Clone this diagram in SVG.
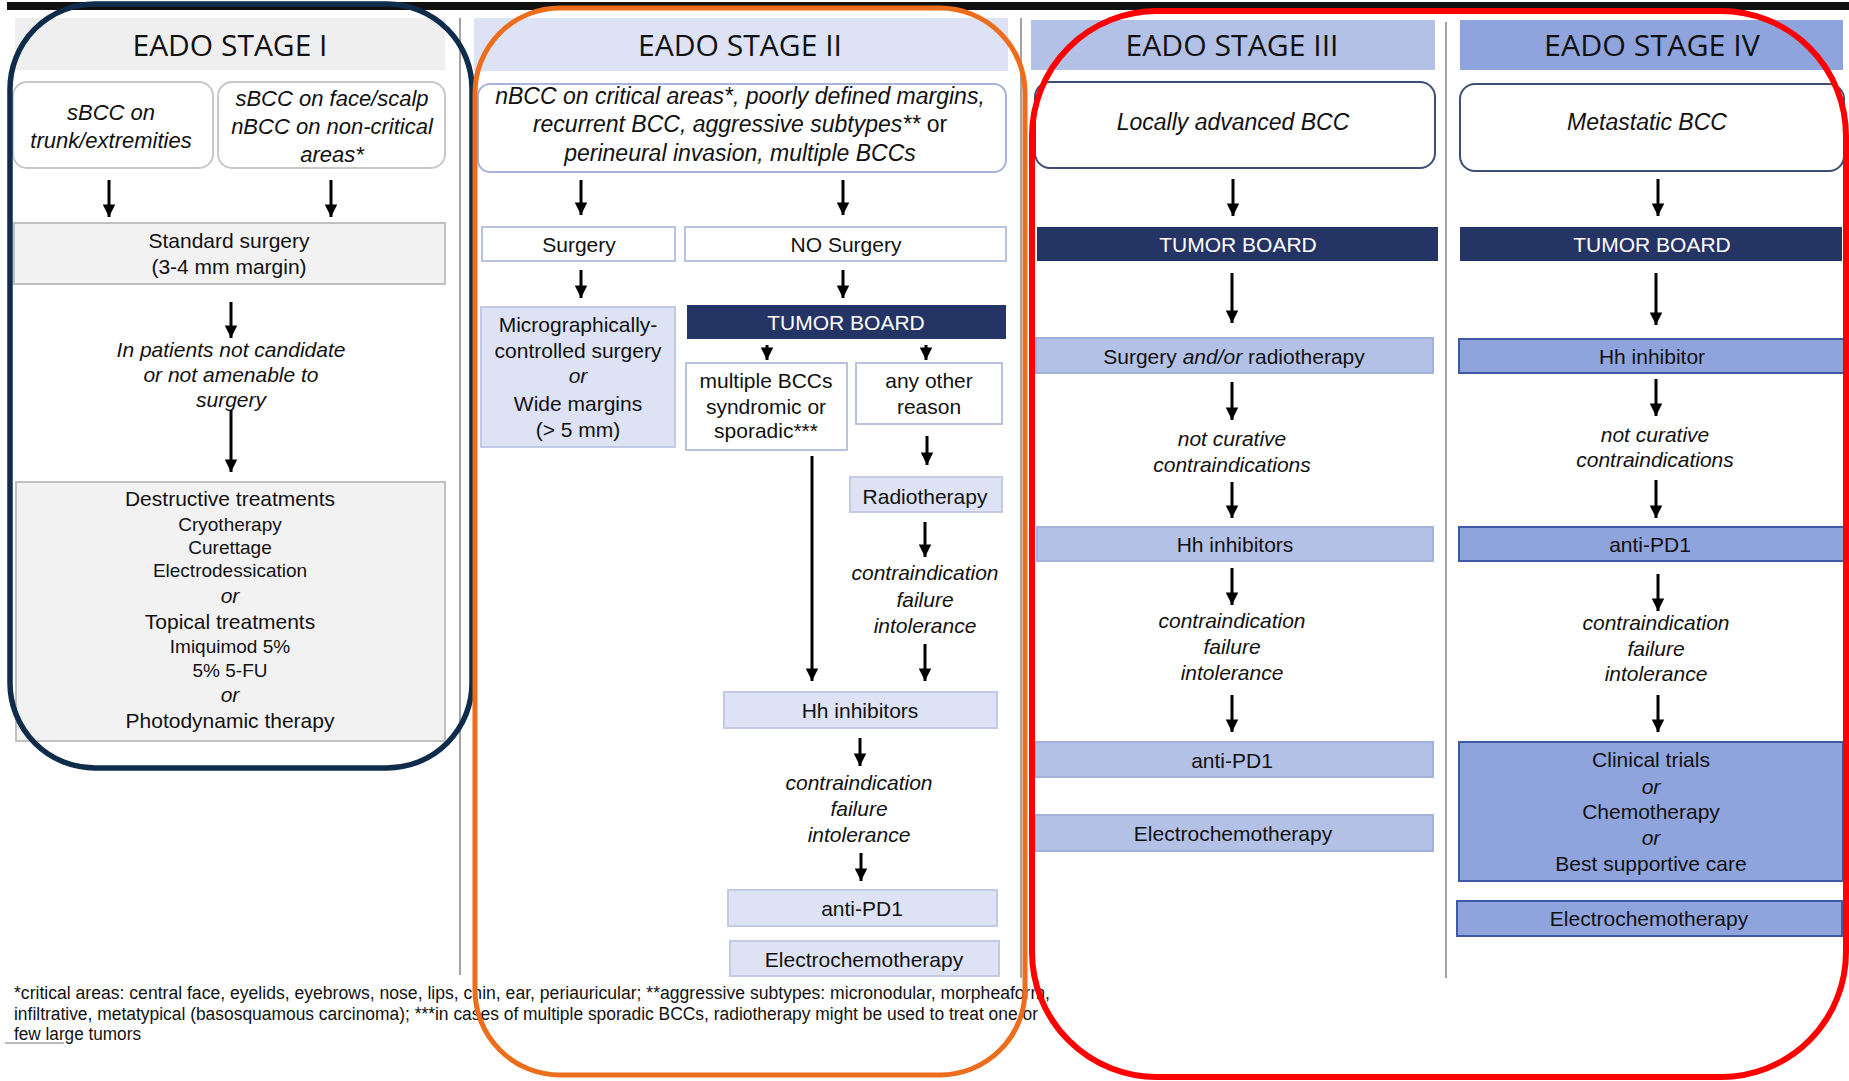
<svg xmlns="http://www.w3.org/2000/svg" width="1849" height="1081" viewBox="0 0 1849 1081">
<defs>
<marker id="ah" viewBox="0 0 10 10" refX="10" refY="5" markerWidth="4.2" markerHeight="4.2" orient="auto"><path d="M0,0 L10,5 L0,10 z" fill="#000"/></marker>
<style>
.t{font-family:"Liberation Sans",Arial,sans-serif;font-size:21px;fill:#111;text-anchor:middle}
.i{font-style:italic}
.s19{font-size:19px}
.w{fill:#fff}
.ttl{font-family:"Open Sans",Lato,sans-serif;font-size:29px;fill:#111;text-anchor:middle}
.arr{stroke:#000;stroke-width:3;fill:none;marker-end:url(#ah)}
.sep{stroke:#a3a3a3;stroke-width:2}
.g1{fill:#f2f2f2;stroke:#c0c0c0;stroke-width:2}
.r1{fill:#fff;stroke:#c8c8c8;stroke-width:2}
.h2{fill:#dde2f4}
.b2{fill:#dde2f4;stroke:#c3cae6;stroke-width:2}
.o2{fill:#fff;stroke:#b9c2df;stroke-width:2}
.tb{fill:#243464}
.h3{fill:#b4c1e6}
.b3{fill:#b4c1e6;stroke:#a2b0dc;stroke-width:2}
.h4{fill:#8fa4dc}
.b4{fill:#8fa4dc;stroke:#3f5aa5;stroke-width:2}
.rn{fill:#fff;stroke:#3d4d75;stroke-width:2}
.foot{font-family:"Liberation Sans",Arial,sans-serif;font-size:18px;fill:#111}
</style>
</defs>
<rect width="1849" height="1081" fill="#fff"/>
<rect x="7" y="2" width="1842" height="8" fill="#111"/>
<line class="sep" x1="460" y1="18" x2="460" y2="975"/>
<line class="sep" x1="1021" y1="18" x2="1021" y2="978"/>
<line class="sep" x1="1446" y1="22" x2="1446" y2="978"/>

<!-- Stage I -->
<g id="stage1-header"><rect x="15" y="18" width="430" height="52" fill="#efefef"/><text class="ttl" x="230" y="56" textLength="195" lengthAdjust="spacingAndGlyphs">EADO STAGE I</text></g>
<g id="s1-trunk"><rect class="r1" x="13" y="82" width="200" height="86" rx="14"/><text class="t i" style="font-size:22px" x="111" y="120">sBCC on</text><text class="t i" style="font-size:22px" x="111" y="148">trunk/extremities</text></g>
<g id="s1-face"><rect class="r1" x="218" y="82" width="227" height="86" rx="14"/><text class="t i" style="font-size:22px" x="332" y="106">sBCC on face/scalp</text><text class="t i" style="font-size:22px" x="332" y="134">nBCC on non-critical</text><text class="t i" style="font-size:22px" x="332" y="162">areas*</text></g>
<g id="s1-standard"><rect class="g1" x="14" y="223" width="431" height="61"/><text class="t" x="229" y="248">Standard surgery</text><text class="t" x="229" y="274">(3-4 mm margin)</text></g>
<g id="s1-notcandidate"><text class="t i" x="231" y="357">In patients not candidate</text><text class="t i" x="231" y="382">or not amenable to</text><text class="t i" x="231" y="407">surgery</text></g>
<g id="s1-destructive"><rect class="g1" x="16" y="482" width="429" height="259"/>
<text class="t" x="230" y="506">Destructive treatments</text>
<text class="t s19" x="230" y="531">Cryotherapy</text>
<text class="t s19" x="230" y="554">Curettage</text>
<text class="t s19" x="230" y="577">Electrodessication</text>
<text class="t i" x="230" y="603">or</text>
<text class="t" x="230" y="629">Topical treatments</text>
<text class="t s19" x="230" y="653">Imiquimod 5%</text>
<text class="t s19" x="230" y="677">5% 5-FU</text>
<text class="t i" x="230" y="702">or</text>
<text class="t" x="230" y="728">Photodynamic therapy</text></g>

<!-- Stage II -->
<g id="stage2-header"><rect class="h2" x="474" y="18" width="534" height="53"/><text class="ttl" x="740" y="56" textLength="204" lengthAdjust="spacingAndGlyphs">EADO STAGE II</text></g>
<g id="s2-criteria"><rect x="478" y="84" width="528" height="88" rx="12" fill="#fff" stroke="#a8b4d8" stroke-width="2"/>
<text class="t i" style="font-size:23px" x="740" y="104">nBCC on critical areas*, poorly defined margins,</text>
<text class="t i" style="font-size:23px" x="740" y="132">recurrent BCC, aggressive subtypes** <tspan font-style="normal">or</tspan></text>
<text class="t i" style="font-size:23px" x="740" y="161">perineural invasion, multiple BCCs</text></g>
<g id="s2-surgery"><rect class="o2" x="482" y="227" width="193" height="34"/><text class="t" x="579" y="252">Surgery</text></g>
<g id="s2-nosurgery"><rect class="o2" x="685" y="227" width="321" height="34"/><text class="t" x="846" y="252">NO Surgery</text></g>
<g id="s2-micro"><rect class="b2" x="481" y="307" width="194" height="140"/>
<text class="t" x="578" y="332">Micrographically-</text>
<text class="t" x="578" y="358">controlled surgery</text>
<text class="t i" x="578" y="383">or</text>
<text class="t" x="578" y="411">Wide margins</text>
<text class="t" x="578" y="437">(&gt; 5 mm)</text></g>
<g id="s2-tumorboard"><rect class="tb" x="687" y="305" width="319" height="34"/><text class="t w" x="846" y="330">TUMOR BOARD</text></g>
<g id="s2-multiple"><rect class="o2" x="686" y="363" width="161" height="87"/><text class="t" x="766" y="388">multiple BCCs</text><text class="t" x="766" y="414">syndromic or</text><text class="t" x="766" y="438">sporadic***</text></g>
<g id="s2-other"><rect class="o2" x="856" y="363" width="146" height="61"/><text class="t" x="929" y="388">any other</text><text class="t" x="929" y="414">reason</text></g>
<g id="s2-radio"><rect class="b2" x="850" y="477" width="152" height="35"/><text class="t" x="925" y="504">Radiotherapy</text></g>
<g id="s2-cfi1"><text class="t i" x="925" y="580">contraindication</text><text class="t i" x="925" y="607">failure</text><text class="t i" x="925" y="633">intolerance</text></g>
<g id="s2-hh"><rect class="b2" x="724" y="692" width="273" height="36"/><text class="t" x="860" y="718">Hh inhibitors</text></g>
<g id="s2-cfi2"><text class="t i" x="859" y="790">contraindication</text><text class="t i" x="859" y="816">failure</text><text class="t i" x="859" y="842">intolerance</text></g>
<g id="s2-pd1"><rect class="b2" x="728" y="890" width="269" height="36"/><text class="t" x="862" y="916">anti-PD1</text></g>
<g id="s2-ect"><rect class="b2" x="730" y="941" width="269" height="35"/><text class="t" x="864" y="967">Electrochemotherapy</text></g>

<!-- Stage III -->
<g id="stage3-header"><rect class="h3" x="1031" y="20" width="404" height="50"/><text class="ttl" x="1232" y="56" textLength="213" lengthAdjust="spacingAndGlyphs">EADO STAGE III</text></g>
<g id="s3-locally"><rect class="rn" x="1035" y="82" width="400" height="86" rx="15"/><text class="t i" style="font-size:23px" x="1233" y="130">Locally advanced BCC</text></g>
<g id="s3-tumorboard"><rect class="tb" x="1037" y="227" width="401" height="34"/><text class="t w" x="1238" y="252">TUMOR BOARD</text></g>
<g id="s3-surgradio"><rect class="b3" x="1036" y="338" width="397" height="35"/><text class="t" x="1234" y="364">Surgery <tspan font-style="italic">and/or</tspan> radiotherapy</text></g>
<g id="s3-notcur"><text class="t i" x="1232" y="446">not curative</text><text class="t i" x="1232" y="472">contraindications</text></g>
<g id="s3-hh"><rect class="b3" x="1037" y="527" width="396" height="34"/><text class="t" x="1235" y="552">Hh inhibitors</text></g>
<g id="s3-cfi"><text class="t i" x="1232" y="628">contraindication</text><text class="t i" x="1232" y="654">failure</text><text class="t i" x="1232" y="680">intolerance</text></g>
<g id="s3-pd1"><rect class="b3" x="1035" y="742" width="398" height="35"/><text class="t" x="1232" y="768">anti-PD1</text></g>
<g id="s3-ect"><rect class="b3" x="1035" y="815" width="398" height="36"/><text class="t" x="1233" y="841">Electrochemotherapy</text></g>

<!-- Stage IV -->
<g id="stage4-header"><rect class="h4" x="1460" y="20" width="383" height="50"/><text class="ttl" x="1652" y="56" textLength="216" lengthAdjust="spacingAndGlyphs">EADO STAGE IV</text></g>
<g id="s4-meta"><rect class="rn" x="1460" y="84" width="384" height="87" rx="15"/><text class="t i" style="font-size:23px" x="1647" y="130">Metastatic BCC</text></g>
<g id="s4-tumorboard"><rect class="tb" x="1460" y="227" width="382" height="34"/><text class="t w" x="1652" y="252">TUMOR BOARD</text></g>
<g id="s4-hh"><rect class="b4" x="1459" y="339" width="385" height="34"/><text class="t" x="1652" y="364">Hh inhibitor</text></g>
<g id="s4-notcur"><text class="t i" x="1655" y="442">not curative</text><text class="t i" x="1655" y="467">contraindications</text></g>
<g id="s4-pd1"><rect class="b4" x="1459" y="527" width="385" height="34"/><text class="t" x="1650" y="552">anti-PD1</text></g>
<g id="s4-cfi"><text class="t i" x="1656" y="630">contraindication</text><text class="t i" x="1656" y="656">failure</text><text class="t i" x="1656" y="681">intolerance</text></g>
<g id="s4-clinical"><rect class="b4" x="1459" y="742" width="384" height="139"/>
<text class="t" x="1651" y="767">Clinical trials</text>
<text class="t i" x="1651" y="794">or</text>
<text class="t" x="1651" y="819">Chemotherapy</text>
<text class="t i" x="1651" y="845">or</text>
<text class="t" x="1651" y="871">Best supportive care</text></g>
<g id="s4-ect"><rect class="b4" x="1457" y="901" width="385" height="35"/><text class="t" x="1649" y="926">Electrochemotherapy</text></g>

<!-- Connectors -->
<g id="connectors">
<line class="arr" x1="109" y1="180" x2="109" y2="217"/>
<line class="arr" x1="331" y1="180" x2="331" y2="217"/>
<line class="arr" x1="231" y1="302" x2="231" y2="338"/>
<line class="arr" x1="231" y1="410" x2="231" y2="472"/>
<line class="arr" x1="581" y1="180" x2="581" y2="215"/>
<line class="arr" x1="843" y1="180" x2="843" y2="215"/>
<line class="arr" x1="581" y1="270" x2="581" y2="298"/>
<line class="arr" x1="843" y1="270" x2="843" y2="298"/>
<line class="arr" x1="767" y1="345" x2="767" y2="360"/>
<line class="arr" x1="926" y1="345" x2="926" y2="360"/>
<line class="arr" x1="927" y1="436" x2="927" y2="465"/>
<line class="arr" x1="925" y1="522" x2="925" y2="557"/>
<line class="arr" x1="925" y1="644" x2="925" y2="681"/>
<line class="arr" x1="812" y1="456" x2="812" y2="681"/>
<line class="arr" x1="860" y1="738" x2="860" y2="766"/>
<line class="arr" x1="861" y1="853" x2="861" y2="881"/>
<line class="arr" x1="1233" y1="179" x2="1233" y2="216"/>
<line class="arr" x1="1232" y1="273" x2="1232" y2="323"/>
<line class="arr" x1="1232" y1="382" x2="1232" y2="420"/>
<line class="arr" x1="1232" y1="482" x2="1232" y2="518"/>
<line class="arr" x1="1232" y1="568" x2="1232" y2="605"/>
<line class="arr" x1="1232" y1="695" x2="1232" y2="732"/>
<line class="arr" x1="1658" y1="179" x2="1658" y2="216"/>
<line class="arr" x1="1656" y1="273" x2="1656" y2="325"/>
<line class="arr" x1="1656" y1="379" x2="1656" y2="416"/>
<line class="arr" x1="1656" y1="480" x2="1656" y2="518"/>
<line class="arr" x1="1658" y1="574" x2="1658" y2="611"/>
<line class="arr" x1="1658" y1="695" x2="1658" y2="732"/>
</g>

<!-- Footnote -->
<g id="footnote">
<text class="foot" x="14" y="999" textLength="1036" lengthAdjust="spacingAndGlyphs">*critical areas: central face, eyelids, eyebrows, nose, lips, chin, ear, periauricular; **aggressive subtypes: micronodular, morpheaform,</text>
<text class="foot" x="14" y="1020" textLength="1024" lengthAdjust="spacingAndGlyphs">infiltrative, metatypical (basosquamous carcinoma); ***in cases of multiple sporadic BCCs, radiotherapy might be used to treat one or</text>
<text class="foot" x="14" y="1040" textLength="127" lengthAdjust="spacingAndGlyphs">few large tumors</text>
<line x1="5" y1="1043" x2="64" y2="1043" stroke="#777" stroke-width="1"/>
</g>

<!-- Highlight outlines -->
<g id="outlines" fill="none">
<rect x="10" y="4" width="462" height="764" rx="85" stroke="#0f2d4b" stroke-width="5.5"/>
<rect x="475" y="8" width="550" height="1067" rx="85" stroke="#ec6e1c" stroke-width="5"/>
<rect x="1032" y="11" width="814" height="1066" rx="125" stroke="#ff0000" stroke-width="6"/>
</g>
</svg>
